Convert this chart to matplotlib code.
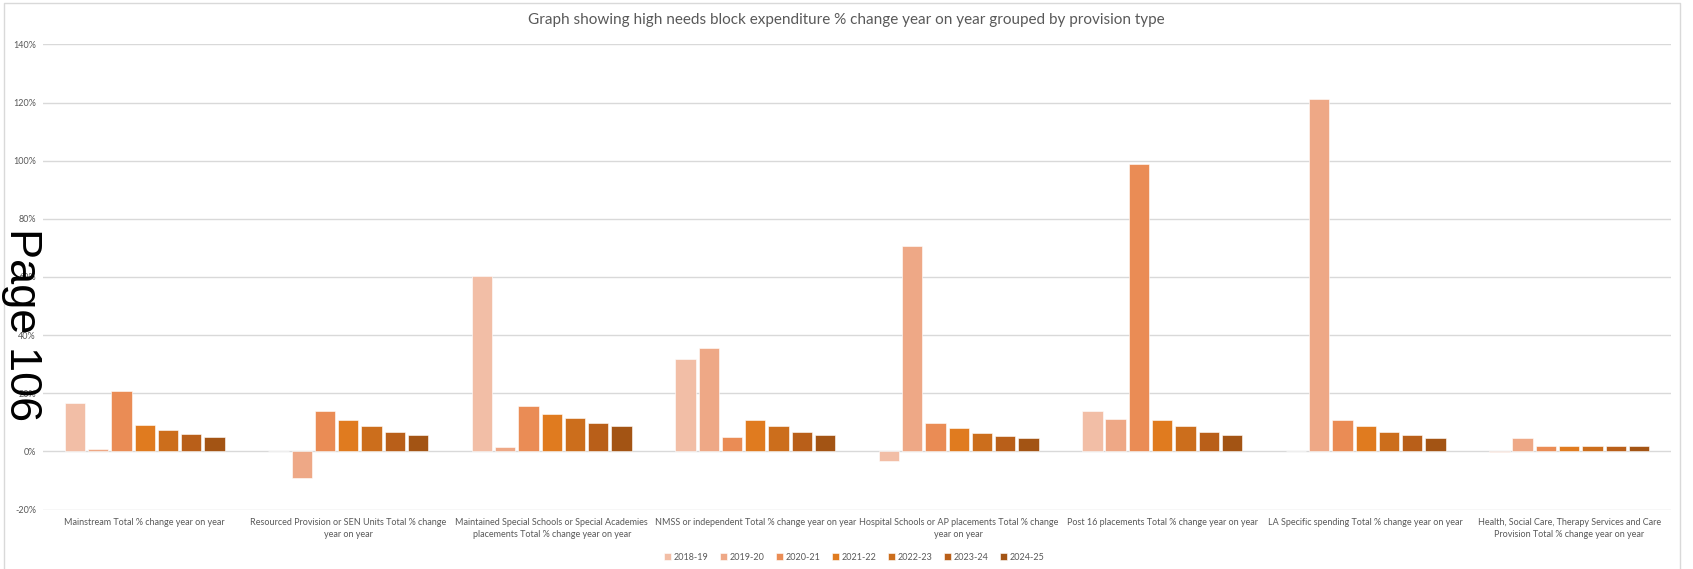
import numpy as np
import matplotlib.pyplot as plt
from matplotlib.lines import Line2D

plt.rcParams['font.family'] = ['Lato', 'DejaVu Sans']

categories = [
    "Mainstream Total % change year on year",
    "Resourced Provision or SEN Units Total % change\nyear on year",
    "Maintained Special Schools or Special Academies\nplacements Total % change year on year",
    "NMSS or independent Total % change year on year",
    "Hospital Schools or AP placements Total % change\nyear on year",
    "Post 16 placements Total % change year on year",
    "LA Specific spending Total % change year on year",
    "Health, Social Care, Therapy Services and Care\nProvision Total % change year on year",
]
years = ["2018-19", "2019-20", "2020-21", "2021-22", "2022-23", "2023-24", "2024-25"]

# % change per year, one list per provision type (same order as categories)
mainstream = [16.6, 0.7, 20.9, 9.0, 7.5, 5.9, 5.0]
resourced = [0.0, -9.1, 13.8, 10.7, 8.7, 6.7, 5.8]
maintained = [60.5, 1.4, 15.5, 12.8, 11.4, 9.7, 8.9]
nmss = [31.9, 35.6, 5.1, 10.8, 8.7, 6.7, 5.7]
hospital = [-3.2, 70.5, 9.8, 8.1, 6.3, 5.4, 4.5]
post16 = [13.9, 11.0, 98.7, 10.7, 8.7, 6.7, 5.8]
la_specific = [0.0, 121.1, 10.7, 8.7, 6.7, 5.8, 4.7]
health = [-0.2, 4.7, 1.9, 1.9, 1.9, 1.9, 1.9]

colours = ["#F2BEA6", "#EEA886", "#EA8C55", "#E07B1F", "#CC6E1C", "#B95F19", "#A35414"]

values = np.array([mainstream, resourced, maintained, nmss,
                   hospital, post16, la_specific, health])

fig = plt.figure(figsize=(16.93, 5.69), dpi=100)
ax = fig.add_axes([0.0254, 0.1044, 0.9616, 0.8176])

x = np.arange(len(categories))
slot = 0.8 / len(years)
for i, yr in enumerate(years):
    offs = (i - (len(years) - 1) / 2) * slot
    ax.bar(x + offs, values[:, i], width=slot * 0.88, color=colours[i],
           edgecolor="white", linewidth=0.4, label=yr, zorder=3)

ax.set_xlim(-0.5, len(categories) - 0.5)
ax.set_ylim(-20, 140)
ax.set_yticks(np.arange(-20, 141, 20))
ax.set_yticklabels([f"{v}%" for v in range(-20, 141, 20)])
ax.grid(axis="y", color="#D9D9D9", linewidth=1, zorder=0)
for s in ax.spines.values():
    s.set_visible(False)
ax.tick_params(axis="y", length=0, labelsize=6.5, labelcolor="#595959", pad=5)
ax.tick_params(axis="x", length=0, labelsize=6.5, labelcolor="#595959", pad=6)
ax.set_xticks(x)
ax.set_xticklabels(categories, linespacing=1.5)

fig.text(0.4997, 0.964, "Graph showing high needs block expenditure % change year on year grouped by provision type",
         ha="center", va="center", fontsize=11, color="#595959")

ax.legend(loc="center", bbox_to_anchor=(0.5045, 0.021), bbox_transform=fig.transFigure,
          ncol=7, frameon=False, fontsize=6.5, handlelength=0.8, handleheight=0.8,
          handletextpad=0.3, columnspacing=1.25, labelcolor="#595959")

# light outer frame of the chart area
frame_x = [4 / 1693, 4 / 1693, 1680 / 1693, 1680 / 1693]
frame_y = [0.0, 1 - 3 / 569, 1 - 3 / 569, 0.0]
fig.add_artist(Line2D(frame_x, frame_y, color="#D9D9D9", linewidth=1,
                      transform=fig.transFigure))

fig.text(0.0128, 0.43, "Page 106", rotation=-90, ha="center", va="center",
         fontsize=32.5, family=["Liberation Sans", "DejaVu Sans"], color="black")

fig.savefig("out.png", dpi=100)
